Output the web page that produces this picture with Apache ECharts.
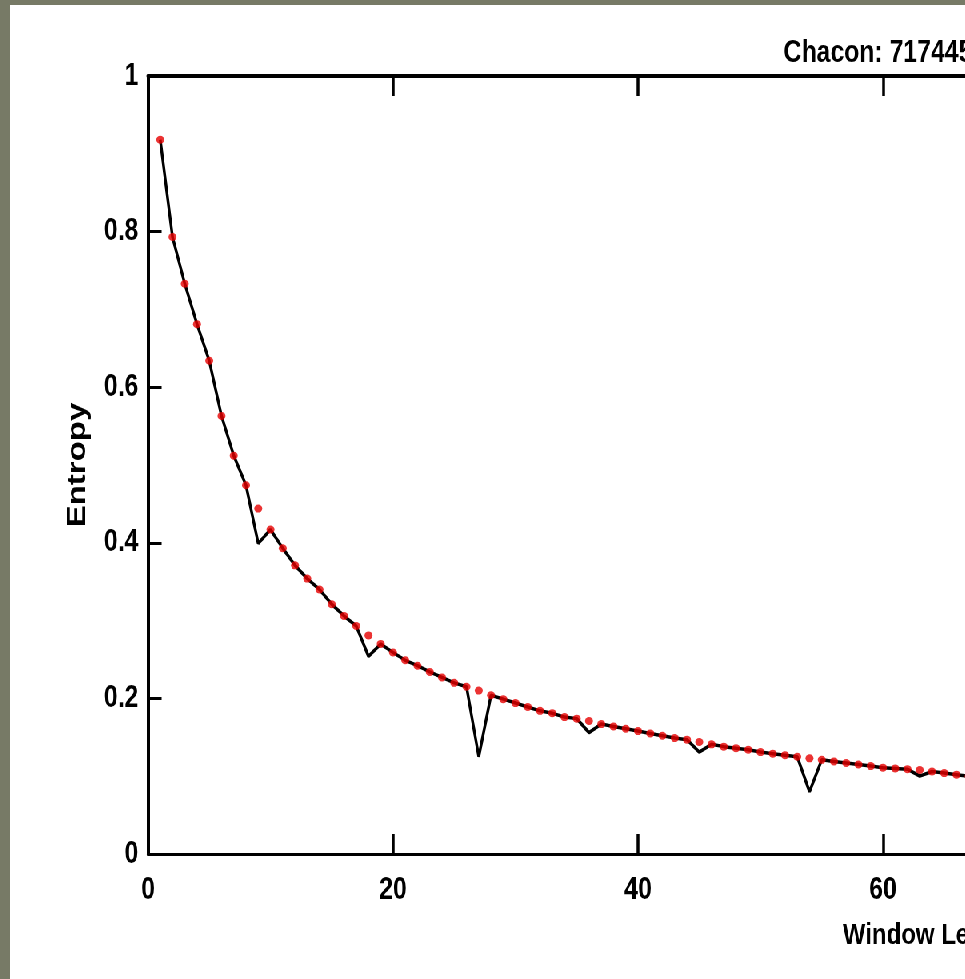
<!DOCTYPE html>
<html>
<head>
<meta charset="utf-8">
<script src="https://cdn.jsdelivr.net/npm/echarts@6.0.0/dist/echarts.min.js"></script>
<style>
  html, body { margin: 0; padding: 0; width: 965px; height: 979px; overflow: hidden; background: #777a66; }
  /* the source figure is squeezed horizontally, so the chart is drawn wide and scaled down in x */
  #chart-container {
    position: absolute; left: 10px; top: 5px; width: 2240px; height: 974px; background: #fff;
    transform: scaleX(0.8); transform-origin: 0 0;
  }
</style>
</head>
<body>
<div id="chart-container"></div>
<script>
// window lengths (x)
const windowLength = [
  1, 2, 3, 4, 5, 6, 7, 8, 9, 10, 11, 12, 13, 14, 15, 16, 17, 18, 19, 20,
  21, 22, 23, 24, 25, 26, 27, 28, 29, 30, 31, 32, 33, 34, 35, 36, 37, 38, 39, 40,
  41, 42, 43, 44, 45, 46, 47, 48, 49, 50, 51, 52, 53, 54, 55, 56, 57, 58, 59, 60,
  61, 62, 63, 64, 65, 66, 67
];
// measured entropy (black line)
const entropyLine = [
  0.918, 0.793, 0.733, 0.681, 0.634, 0.563, 0.512, 0.474, 0.399, 0.417,
  0.393, 0.371, 0.354, 0.340, 0.321, 0.306, 0.293, 0.254, 0.270, 0.259,
  0.249, 0.242, 0.234, 0.227, 0.220, 0.215, 0.125, 0.204, 0.199, 0.194,
  0.189, 0.184, 0.181, 0.176, 0.174, 0.156, 0.167, 0.164, 0.161, 0.158,
  0.155, 0.152, 0.149, 0.147, 0.131, 0.141, 0.138, 0.136, 0.134, 0.131,
  0.129, 0.127, 0.125, 0.080, 0.121, 0.119, 0.117, 0.115, 0.113, 0.111,
  0.110, 0.109, 0.100, 0.106, 0.104, 0.102, 0.100
];
// red dots
const entropyDots = [
  0.918, 0.793, 0.733, 0.681, 0.634, 0.563, 0.512, 0.474, 0.444, 0.417,
  0.393, 0.371, 0.354, 0.340, 0.321, 0.306, 0.293, 0.281, 0.270, 0.259,
  0.249, 0.242, 0.234, 0.227, 0.220, 0.215, 0.210, 0.204, 0.199, 0.194,
  0.189, 0.184, 0.181, 0.176, 0.174, 0.171, 0.167, 0.164, 0.161, 0.158,
  0.155, 0.152, 0.149, 0.147, 0.144, 0.141, 0.138, 0.136, 0.134, 0.131,
  0.129, 0.127, 0.125, 0.123, 0.121, 0.119, 0.117, 0.115, 0.113, 0.111,
  0.110, 0.109, 0.108, 0.106, 0.104, 0.102, 0.100
];
const yTicks = [0, 0.2, 0.4, 0.6, 0.8, 1];

const FONT = "'Liberation Sans', Arial, sans-serif";

var dom = document.getElementById('chart-container');
var myChart = echarts.init(dom, null, { renderer: 'canvas' });

var lineData = windowLength.map(function (x, i) { return [x, entropyLine[i]]; });
var dotData = windowLength.map(function (x, i) { return [x, entropyDots[i]]; });

var axisCommon = {
  type: 'value',
  min: 0,
  max: 128,
  interval: 20,
  splitLine: { show: false },
  axisLine: { lineStyle: { color: '#000', width: 3 } },
  axisTick: { inside: true, length: 20, lineStyle: { color: '#000', width: 3.5 } }
};

var option = {
  animation: false,
  title: {
    text: 'Chacon: 717445',
    left: 962,
    top: 28,
    textStyle: { fontFamily: FONT, fontWeight: 'bold', fontSize: 31, color: '#000' }
  },
  grid: { left: 172.5, top: 71, right: 107.5, bottom: 125 },
  xAxis: [
    Object.assign({}, axisCommon, {
      position: 'bottom',
      name: 'Window Length',
      nameLocation: 'middle',
      nameGap: 67,
      nameTextStyle: { fontFamily: FONT, fontWeight: 'bold', fontSize: 30, color: '#000' },
      axisLabel: { margin: 21, color: '#000', fontSize: 31, fontWeight: 'bold', fontFamily: FONT }
    }),
    Object.assign({}, axisCommon, {
      position: 'top',
      axisLine: { lineStyle: { color: '#000', width: 4 } },
      axisLabel: { show: false }
    })
  ],
  yAxis: {
    type: 'value',
    min: yTicks[0],
    max: yTicks[yTicks.length - 1],
    interval: 0.2,
    splitLine: { show: false },
    axisLine: { show: true, lineStyle: { color: '#000', width: 4 } },
    axisTick: { inside: true, length: 17, lineStyle: { color: '#000', width: 3 } },
    axisLabel: { margin: 12, color: '#000', fontSize: 31, fontWeight: 'bold', fontFamily: FONT },
    name: 'Entropy',
    nameLocation: 'middle',
    nameGap: 71,
    nameTextStyle: { fontFamily: FONT, fontWeight: 'bold', fontSize: 33, color: '#000' }
  },
  series: [
    {
      type: 'line',
      data: lineData,
      symbol: 'none',
      lineStyle: { color: '#000', width: 3.5 },
      z: 2
    },
    {
      type: 'scatter',
      data: dotData,
      symbol: 'circle',
      symbolSize: [10, 8],
      itemStyle: { color: '#e60000' },
      z: 3
    }
  ]
};

if (option && typeof option === 'object') {
  myChart.setOption(option);
}

window.addEventListener('resize', myChart.resize);
</script>
</body>
</html>
